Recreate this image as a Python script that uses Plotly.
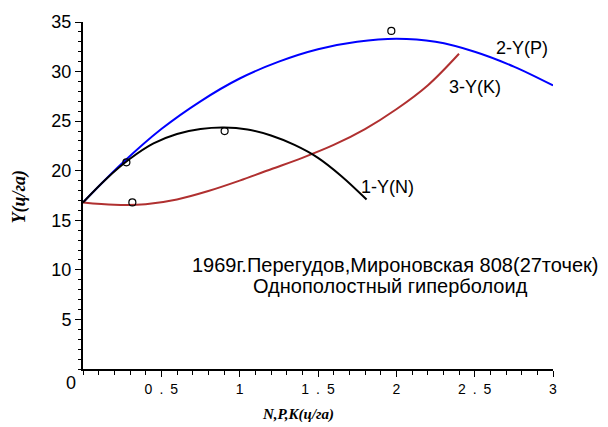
import plotly.graph_objects as go

# ---- data ----
n_x = [0, 0.15, 0.3, 0.45, 0.6, 0.75, 0.9, 1.05, 1.2, 1.35, 1.5, 1.65, 1.81]
n_y = [16.8, 19.2, 21.2, 22.75, 23.7, 24.2, 24.35, 24.15, 23.55, 22.6, 21.3, 19.45, 17.1]

p_x = [0, 0.25, 0.5, 0.75, 1.0, 1.25, 1.5, 1.75, 2.0, 2.25, 2.5, 2.75, 3.0]
p_y = [16.8, 20.75, 24.2, 27.0, 29.3, 31.0, 32.25, 33.0, 33.3, 33.0, 32.0, 30.5, 28.6]

k_x = [0, 0.2, 0.4, 0.6, 0.8, 1.0, 1.2, 1.4, 1.6, 1.8, 2.0, 2.2, 2.4]
k_y = [16.8, 16.57, 16.62, 17.1, 17.95, 19.0, 20.15, 21.3, 22.6, 24.2, 26.2, 28.6, 31.8]

obs_x = [0.277, 0.904, 0.315, 1.968]
obs_y = [20.85, 24.0, 16.8, 34.1]

x_tickvals = [0.5, 1, 1.5, 2, 2.5, 3]
x_ticktext = ["0\u2002.\u20025", "1", "1\u2002.\u20025", "2", "2\u2002.\u20025", "3"]
y_tickvals = [5, 10, 15, 20, 25, 30, 35]
y_ticktext = ["5", "10", "15", "20", "25", "30", "35"]

curve_labels = ["1-Y(N)", "2-Y(P)", "3-Y(K)"]
title_lines = ["1969г.Перегудов,Мироновская 808(27точек)", "Однополостный гиперболоид"]

fig = go.Figure()
fig.add_trace(go.Scatter(x=p_x, y=p_y, mode="lines", line=dict(color="#0000FF", width=2, shape="spline"), hoverinfo="skip"))
fig.add_trace(go.Scatter(x=k_x, y=k_y, mode="lines", line=dict(color="#B03030", width=2, shape="spline"), hoverinfo="skip"))
fig.add_trace(go.Scatter(x=n_x, y=n_y, mode="lines", line=dict(color="#000000", width=2, shape="spline"), hoverinfo="skip"))
fig.add_trace(go.Scatter(x=obs_x, y=obs_y, mode="markers",
                         marker=dict(symbol="circle-open", size=7, color="#000000", line=dict(width=1.2)),
                         hoverinfo="skip"))

sans = "Liberation Sans, Arial, sans-serif"
serif = "Liberation Serif, Times New Roman, serif"
lab_font = dict(family=sans, size=18, color="#000000")
fig.add_annotation(x=1.946, y=18.4, text=curve_labels[0], showarrow=False, font=lab_font)
fig.add_annotation(x=2.80, y=32.36, text=curve_labels[1], showarrow=False, font=lab_font)
fig.add_annotation(x=2.50, y=28.4, text=curve_labels[2], showarrow=False, font=lab_font)

txt_font = dict(family=sans, size=20, color="#000000")
fig.add_annotation(x=1.99, y=10.54, text=title_lines[0], showarrow=False, font=txt_font,
                   xanchor="center", yanchor="middle")
fig.add_annotation(x=1.96, y=8.35, text=title_lines[1], showarrow=False, font=txt_font,
                   xanchor="center", yanchor="middle")

# axis titles
fig.add_annotation(xref="paper", yref="paper", x=0.457, y=-0.13, text="N,P,K(ц/га)", showarrow=False,
                   xanchor="center", yanchor="middle",
                   font=dict(family=serif, size=15, color="#000000", weight="bold", style="italic"))
fig.add_annotation(xref="paper", yref="paper", x=-0.134, y=0.497, text="Y(ц/га)", showarrow=False, textangle=-90,
                   xanchor="center", yanchor="middle",
                   font=dict(family=serif, size=18, color="#000000", weight="bold", style="italic"))
# origin label
fig.add_annotation(xref="paper", yref="paper", x=-0.0255, y=-0.04, text="0", showarrow=False,
                   xanchor="center", yanchor="middle",
                   font=dict(family=sans, size=18, color="#000000"))

fig.update_layout(
    width=608, height=427,
    margin=dict(l=83, r=55, t=17, b=58),
    plot_bgcolor="white", paper_bgcolor="white",
    showlegend=False,
    xaxis=dict(range=[0, 3], showgrid=False, zeroline=False, showline=True, linecolor="black", linewidth=2,
               ticks="outside", ticklen=6, tickwidth=1, tickcolor="black",
               tickvals=x_tickvals, ticktext=x_ticktext,
               tickfont=dict(family=sans, size=14, color="#000000"),
               minor=dict(dtick=0.1, tick0=0, ticks="outside", ticklen=4, tickwidth=1, tickcolor="black", showgrid=False)),
    yaxis=dict(range=[0, 35], showgrid=False, zeroline=False, showline=True, linecolor="black", linewidth=2,
               ticks="outside", ticklen=6, tickwidth=1, tickcolor="black",
               tickvals=y_tickvals, ticktext=y_ticktext,
               tickfont=dict(family=sans, size=18, color="#000000"),
               minor=dict(dtick=1, tick0=0, ticks="outside", ticklen=3, tickwidth=1, tickcolor="black", showgrid=False)),
)

fig.write_html("out.html")
